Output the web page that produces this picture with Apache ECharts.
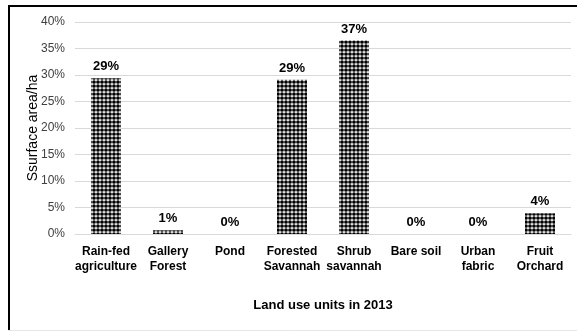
<!DOCTYPE html>
<html>
<head>
<meta charset="utf-8">
<script src="https://cdn.jsdelivr.net/npm/echarts@6/dist/echarts.min.js"></script>
<style>
html,body{margin:0;padding:0;background:#fff;}
#chart{width:577px;height:331px;}
</style>
</head>
<body>
<div id="chart"></div>
<script>
var categories = ['Rain-fed\nagriculture', 'Gallery\nForest', 'Pond', 'Forested\nSavannah', 'Shrub\nsavannah', 'Bare soil', 'Urban\nfabric', 'Fruit\nOrchard'];
var values = [29.4, 0.7, 0, 29.1, 36.5, 0, 0, 3.9];
var yTicks = [0, 5, 10, 15, 20, 25, 30, 35, 40];
var xTitle = 'Land use units in 2013';
var yTitle = 'Ssurface area/ha';

function makePattern() {
  var c = document.createElement('canvas');
  c.width = 4; c.height = 4;
  var ctx = c.getContext('2d');
  ctx.fillStyle = '#fff';
  ctx.fillRect(0, 0, 4, 4);
  ctx.fillStyle = '#000';
  ctx.beginPath();
  ctx.arc(2, 2, 1.85, 0, Math.PI * 2);
  ctx.fill();
  return c;
}

var chart = echarts.init(document.getElementById('chart'), null, {renderer: 'canvas'});
var font = 'Liberation Sans, Arial, sans-serif';
chart.setOption({
  animation: false,
  textStyle: {fontFamily: font},
  grid: {left: 75, right: 6, top: 22, bottom: 97, containLabel: false},
  xAxis: {
    type: 'category',
    data: categories,
    axisTick: {show: false},
    axisLine: {lineStyle: {color: '#d9d9d9', width: 1}},
    axisLabel: {color: '#000', fontWeight: 'bold', fontSize: 12, lineHeight: 15, margin: 10, interval: 0, fontFamily: font},
    name: xTitle,
    nameLocation: 'middle',
    nameGap: 65,
    nameTextStyle: {color: '#000', fontWeight: 'bold', fontSize: 13, fontFamily: font}
  },
  yAxis: {
    type: 'value',
    min: yTicks[0],
    max: yTicks[yTicks.length - 1],
    interval: yTicks[1] - yTicks[0],
    axisLabel: {formatter: '{value}%', color: '#404040', fontSize: 12, margin: 10, fontFamily: font},
    splitLine: {lineStyle: {color: '#d9d9d9', width: 1}},
    axisLine: {show: false},
    axisTick: {show: false}
  },
  series: [{
    type: 'bar',
    data: values,
    barWidth: 30,
    itemStyle: {color: {image: makePattern(), repeat: 'repeat'}},
    label: {
      show: true,
      position: 'top',
      distance: 5,
      formatter: function (p) { return Math.round(p.value) + '%'; },
      color: '#000',
      fontWeight: 'bold',
      fontSize: 13,
      fontFamily: font
    }
  }],
  graphic: [
    {type: 'line', shape: {x1: 9, y1: 5, x2: 9, y2: 331}, style: {stroke: '#000', lineWidth: 2}, silent: true},
    {type: 'line', shape: {x1: 8, y1: 6, x2: 577, y2: 6}, style: {stroke: '#000', lineWidth: 2}, silent: true},
    {type: 'line', shape: {x1: 8, y1: 330.5, x2: 577, y2: 330.5}, style: {stroke: '#e6e6e6', lineWidth: 1}, silent: true},
    {type: 'text', x: 33, y: 128, rotation: Math.PI / 2, silent: true,
     style: {text: yTitle, fill: '#000', font: '14px ' + font, align: 'center', verticalAlign: 'middle'}}
  ]
});
</script>
</body>
</html>
